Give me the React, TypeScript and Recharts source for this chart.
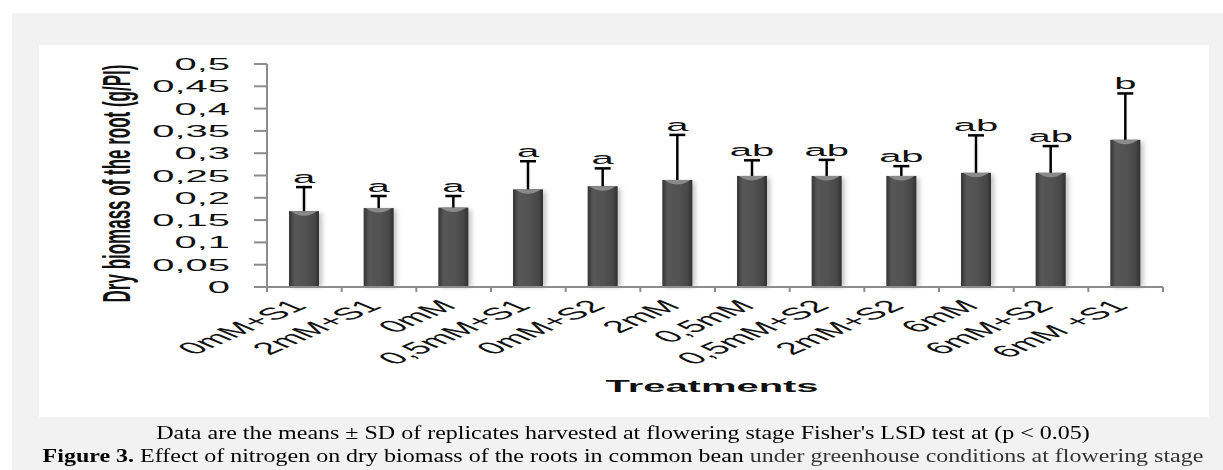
import React from "react";
import { ComposedChart, Bar, XAxis, YAxis } from "recharts";

const categories = ["0mM+S1", "2mM+S1", "0mM", "0,5mM+S1", "0mM+S2", "2mM", "0,5mM", "0,5mM+S2", "2mM+S2", "6mM", "6mM+S2", "6mM +S1"];
const means = [0.17, 0.177, 0.178, 0.219, 0.226, 0.24, 0.249, 0.249, 0.249, 0.256, 0.256, 0.33];
const sds = [0.054, 0.027, 0.026, 0.063, 0.04, 0.101, 0.035, 0.036, 0.022, 0.084, 0.06, 0.104];
const letters = ["a", "a", "a", "a", "a", "a", "ab", "ab", "ab", "ab", "ab", "b"];
const yTicks = [0, 0.05, 0.1, 0.15, 0.2, 0.25, 0.3, 0.35, 0.4, 0.45, 0.5];

const data = categories.map((name, i) => ({ name, mean: means[i], sd: sds[i], letter: letters[i] }));

const FONT = "'Liberation Sans', Arial, sans-serif";
const STRETCH = 2.35;
const AXIS = "#8c8c8c";

const fmt = (v: number) => String(v).replace(".", ",");

const YTick = ({ x, y, payload }: any) => (
  <text transform={`translate(${x - 24},${y + 6}) scale(${STRETCH},1)`} textAnchor="end" fontSize={17} fontFamily={FONT} fill="#111">
    {fmt(payload.value)}
  </text>
);

const XTick = ({ x, y, payload, index }: any) => {
  const half = payload.offset ?? 37.3;
  return (
    <g>
      <line x1={x - half} x2={x - half} y1={y} y2={y + 5} stroke={AXIS} strokeWidth={2} />
      {index === categories.length - 1 && <line x1={x + half} x2={x + half} y1={y} y2={y + 5} stroke={AXIS} strokeWidth={2} />}
      <text transform={`translate(${x + 4},${y + 20}) scale(${STRETCH},1) rotate(-45)`} textAnchor="end" fontSize={17} fontFamily={FONT} fill="#111">
        {payload.value}
      </text>
    </g>
  );
};

const YLabel = ({ viewBox }: any) => {
  const cx = viewBox.x - 51;
  const cy = viewBox.y + viewBox.height / 2 + 8;
  return (
    <text transform={`translate(${cx},${cy}) scale(2.3,1) rotate(-90)`} textAnchor="middle" dy="0.35em" fontSize={17} fontWeight="bold" fontFamily={FONT} fill="#111">
      Dry biomass of the root (g/PI)
    </text>
  );
};

const XLabel = ({ viewBox }: any) => (
  <text transform={`translate(${viewBox.x + viewBox.width / 2 - 3},${viewBox.y + 105}) scale(${STRETCH},1)`} textAnchor="middle" fontSize={17} fontWeight="bold" fontFamily={FONT} fill="#111">
    Treatments
  </text>
);

const BarShape = (props: any) => {
  const { x, y, width, height, payload } = props;
  const perUnit = height / payload.mean;
  const top = y - payload.sd * perUnit;
  const cx = x + width / 2;
  return (
    <g>
      <rect x={x + 3} y={y + 2} width={width} height={height - 2} fill="#9a9a9a" opacity={0.6} filter="url(#blur)" />
      <rect x={x} y={y} width={width} height={height} fill="url(#barGrad)" />
      <path d={`M${x + 2},${y} Q${cx},${y + 9} ${x + width - 2},${y} Z`} fill="#8a8a8a" />
      <line x1={cx} x2={cx} y1={y} y2={top} stroke="#000" strokeWidth={2.5} />
      <line x1={cx - 8} x2={cx + 8} y1={top} y2={top} stroke="#000" strokeWidth={2.5} />
      <text transform={`translate(${cx},${top - 4}) scale(${STRETCH},1)`} textAnchor="middle" fontSize={17} fontFamily={FONT} fill="#111">
        {payload.letter}
      </text>
    </g>
  );
};

export default function App() {
  return (
    <div style={{ position: "absolute", left: 0, top: 0, width: 1223, height: 470, background: "#fff", overflow: "hidden" }}>
      <div style={{ position: "absolute", left: 12, top: 13, width: 1211, height: 457, background: "#f2f2f2" }} />
      <div style={{ position: "absolute", left: 39, top: 45, width: 1170, height: 372, background: "#fff" }}>
        <ComposedChart width={1170} height={372} data={data} margin={{ top: 19, right: 46, left: 128, bottom: 30 }}>
          <defs>
            <linearGradient id="barGrad" x1="0" y1="0" x2="1" y2="0">
              <stop offset="0%" stopColor="#333" />
              <stop offset="18%" stopColor="#575757" />
              <stop offset="55%" stopColor="#525252" />
              <stop offset="85%" stopColor="#474747" />
              <stop offset="100%" stopColor="#2e2e2e" />
            </linearGradient>
            <filter id="blur" x="-50%" y="-10%" width="200%" height="120%">
              <feGaussianBlur stdDeviation="2.5" />
            </filter>
          </defs>
          <XAxis dataKey="name" interval={0} height={100} tickSize={0} tickMargin={0} tickLine={false} axisLine={{ stroke: AXIS, strokeWidth: 2 }} tick={<XTick />} label={<XLabel />} />
          <YAxis width={100} domain={[0, 0.5]} ticks={yTicks} interval={0} tickSize={13} tickMargin={0} tickLine={{ stroke: AXIS, strokeWidth: 2 }} axisLine={{ stroke: AXIS, strokeWidth: 2 }} tick={<YTick />} label={<YLabel />} />
          <Bar dataKey="mean" barSize={30} shape={<BarShape />} isAnimationActive={false} />
        </ComposedChart>
      </div>
      <div style={{ position: "absolute", left: 12, top: 421, width: 1222, textAlign: "center", fontFamily: "'Liberation Serif', 'Times New Roman', serif", fontSize: 19.5, lineHeight: "23.4px", color: "#000", whiteSpace: "nowrap", transform: "scaleX(1.23)", transformOrigin: "center" }}>
        <div>Data are the means ± SD of replicates harvested at flowering stage Fisher's LSD test at (p &lt; 0.05)</div>
        <div>
          <b>Figure 3.</b> Effect of nitrogen on dry biomass of the roots in common bean <span style={{ color: "#333" }}>under greenhouse conditions at flowering stage</span>
        </div>
      </div>
    </div>
  );
}
